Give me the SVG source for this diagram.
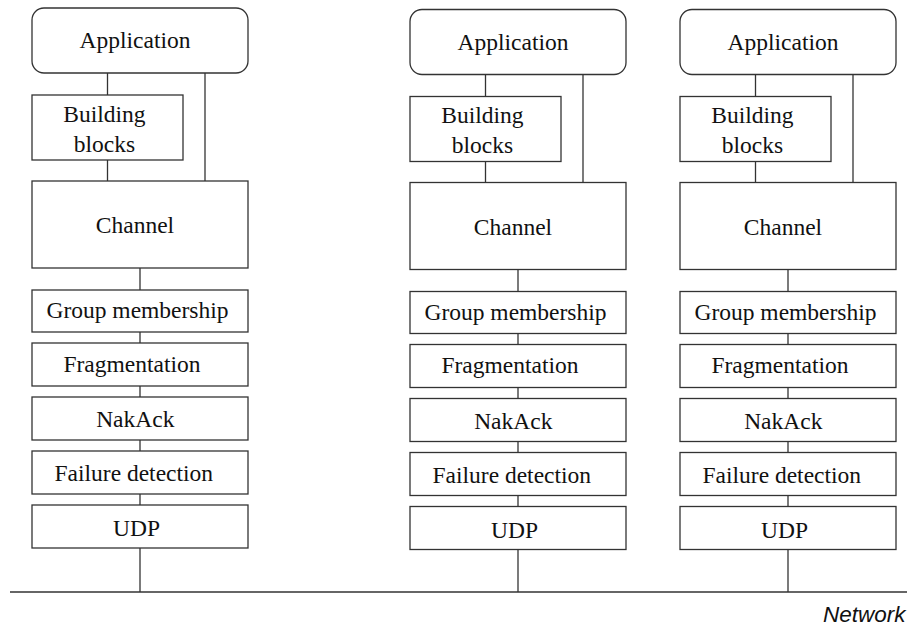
<svg xmlns="http://www.w3.org/2000/svg" width="907" height="628" viewBox="0 0 907 628">
<style>
.box{fill:#fff;stroke:#333;stroke-width:1.3}
.ln{stroke:#333;stroke-width:1.3;fill:none}
.t{font-family:"Liberation Serif","Times New Roman",serif;font-size:23.5px;fill:#111;text-anchor:middle}
.net{font-family:"Liberation Sans",Arial,sans-serif;font-style:italic;font-size:22.5px;fill:#111;text-anchor:end}
</style>
<defs>
<g id="conn">
<line class="ln" x1="107.5" y1="73" x2="107.5" y2="95"/>
<line class="ln" x1="107.5" y1="160" x2="107.5" y2="181"/>
<line class="ln" x1="205" y1="73" x2="205" y2="181"/>
<line class="ln" x1="140" y1="268" x2="140" y2="290"/>
<line class="ln" x1="140" y1="332" x2="140" y2="343"/>
<line class="ln" x1="140" y1="386" x2="140" y2="397"/>
<line class="ln" x1="140" y1="440" x2="140" y2="451"/>
<line class="ln" x1="140" y1="494" x2="140" y2="505"/>
</g>
</defs>
<g id="connectors">
<use href="#conn"/>
<use href="#conn" transform="translate(378,1.5)"/>
<use href="#conn" transform="translate(648,1.5)"/>
<line class="ln" x1="140" y1="548" x2="140" y2="592"/>
<line class="ln" x1="518" y1="549.5" x2="518" y2="592"/>
<line class="ln" x1="788" y1="549.5" x2="788" y2="592"/>
<line class="ln" x1="10" y1="592" x2="907" y2="592"/>
</g>
<g id="stack1">
<g id="app1"><rect class="box" x="32" y="8" width="216" height="65" rx="12"/><text class="t" x="135" y="48">Application</text></g>
<g id="bb1"><rect class="box" x="32" y="95" width="151" height="65"/><text class="t" x="104.5" y="121.5">Building</text><text class="t" x="104.5" y="151.5">blocks</text></g>
<g id="ch1"><rect class="box" x="32" y="181" width="216" height="87"/><text class="t" x="135" y="233">Channel</text></g>
<g id="gm1"><rect class="box" x="32" y="290" width="216" height="42"/><text class="t" x="137.5" y="318.3">Group membership</text></g>
<g id="fr1"><rect class="box" x="32" y="343" width="216" height="43"/><text class="t" x="132" y="371.7">Fragmentation</text></g>
<g id="na1"><rect class="box" x="32" y="397" width="216" height="43"/><text class="t" x="135.3" y="427.3">NakAck</text></g>
<g id="fd1"><rect class="box" x="32" y="451" width="216" height="43"/><text class="t" x="133.8" y="481.3">Failure detection</text></g>
<g id="udp1"><rect class="box" x="32" y="505" width="216" height="43"/><text class="t" x="136.5" y="536">UDP</text></g>
</g>
<g id="stack2" transform="translate(378,1.5)">
<g id="app2"><rect class="box" x="32" y="8" width="216" height="65" rx="12"/><text class="t" x="135" y="48">Application</text></g>
<g id="bb2"><rect class="box" x="32" y="95" width="151" height="65"/><text class="t" x="104.5" y="121.5">Building</text><text class="t" x="104.5" y="151.5">blocks</text></g>
<g id="ch2"><rect class="box" x="32" y="181" width="216" height="87"/><text class="t" x="135" y="233">Channel</text></g>
<g id="gm2"><rect class="box" x="32" y="290" width="216" height="42"/><text class="t" x="137.5" y="318.3">Group membership</text></g>
<g id="fr2"><rect class="box" x="32" y="343" width="216" height="43"/><text class="t" x="132" y="371.7">Fragmentation</text></g>
<g id="na2"><rect class="box" x="32" y="397" width="216" height="43"/><text class="t" x="135.3" y="427.3">NakAck</text></g>
<g id="fd2"><rect class="box" x="32" y="451" width="216" height="43"/><text class="t" x="133.8" y="481.3">Failure detection</text></g>
<g id="udp2"><rect class="box" x="32" y="505" width="216" height="43"/><text class="t" x="136.5" y="536">UDP</text></g>
</g>
<g id="stack3" transform="translate(648,1.5)">
<g id="app3"><rect class="box" x="32" y="8" width="216" height="65" rx="12"/><text class="t" x="135" y="48">Application</text></g>
<g id="bb3"><rect class="box" x="32" y="95" width="151" height="65"/><text class="t" x="104.5" y="121.5">Building</text><text class="t" x="104.5" y="151.5">blocks</text></g>
<g id="ch3"><rect class="box" x="32" y="181" width="216" height="87"/><text class="t" x="135" y="233">Channel</text></g>
<g id="gm3"><rect class="box" x="32" y="290" width="216" height="42"/><text class="t" x="137.5" y="318.3">Group membership</text></g>
<g id="fr3"><rect class="box" x="32" y="343" width="216" height="43"/><text class="t" x="132" y="371.7">Fragmentation</text></g>
<g id="na3"><rect class="box" x="32" y="397" width="216" height="43"/><text class="t" x="135.3" y="427.3">NakAck</text></g>
<g id="fd3"><rect class="box" x="32" y="451" width="216" height="43"/><text class="t" x="133.8" y="481.3">Failure detection</text></g>
<g id="udp3"><rect class="box" x="32" y="505" width="216" height="43"/><text class="t" x="136.5" y="536">UDP</text></g>
</g>
<g id="network"><text class="net" x="905.5" y="621.7">Network</text></g>
</svg>
